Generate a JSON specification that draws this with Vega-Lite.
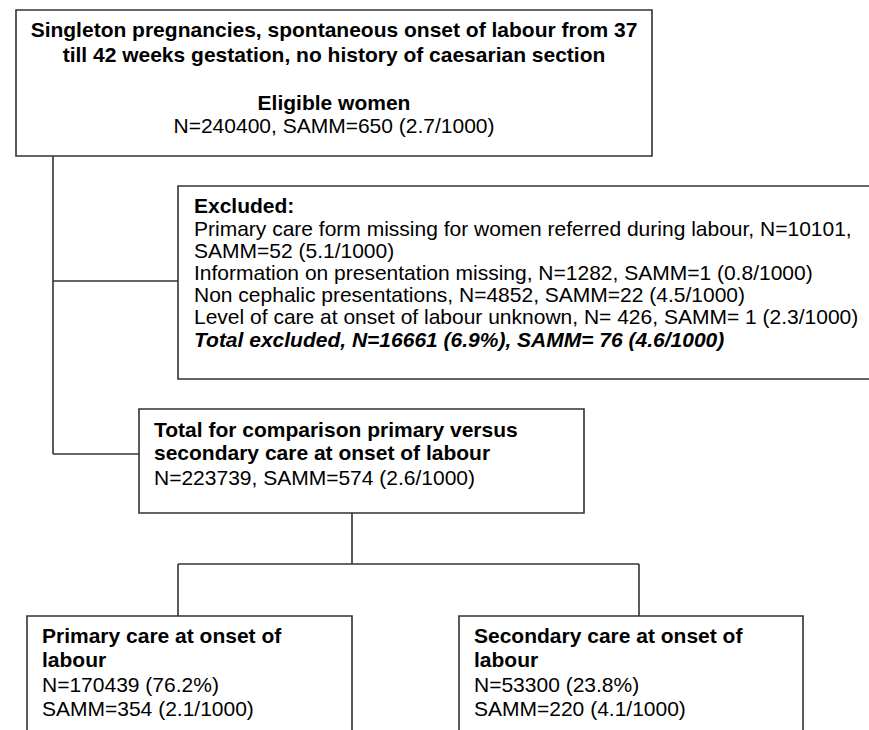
{
  "$schema": "https://vega.github.io/schema/vega-lite/v6.json",
  "width": 869,
  "height": 730,
  "padding": 0,
  "autosize": "none",
  "background": "white",
  "config": {"view": {"stroke": null}, "text": {"font": "Liberation Sans", "fontSize": 21, "color": "#000000", "baseline": "alphabetic"}},
  "datasets": {
    "boxes": [
      {"box": "eligible", "x": 16, "x2": 652, "y": 10, "y2": 156},
      {"box": "excluded", "x": 178, "x2": 880, "y": 186, "y2": 379},
      {"box": "comparison", "x": 139, "x2": 584, "y": 409, "y2": 513},
      {"box": "primary", "x": 27, "x2": 352, "y": 616, "y2": 745},
      {"box": "secondary", "x": 459, "x2": 803, "y": 616, "y2": 745}
    ],
    "connectors": [
      {"x": 53, "x2": 53, "y": 156, "y2": 454},
      {"x": 53, "x2": 178, "y": 281, "y2": 281},
      {"x": 53, "x2": 139, "y": 454, "y2": 454},
      {"x": 352, "x2": 352, "y": 513, "y2": 564},
      {"x": 178, "x2": 639, "y": 564, "y2": 564},
      {"x": 178, "x2": 178, "y": 564, "y2": 616},
      {"x": 639, "x2": 639, "y": 564, "y2": 616}
    ],
    "labels": [
      {"role": "centerBold", "x": 334, "y": 37, "text": "Singleton pregnancies, spontaneous onset of labour from 37"},
      {"role": "centerBold", "x": 334, "y": 62, "text": "till 42 weeks gestation, no history of caesarian section"},
      {"role": "centerBold", "x": 334, "y": 110, "text": "Eligible women"},
      {"role": "centerNormal", "x": 334, "y": 133, "text": "N=240400, SAMM=650 (2.7/1000)"},
      {"role": "leftBold", "x": 194, "y": 213, "text": "Excluded:"},
      {"role": "leftNormal", "x": 194, "y": 236, "text": "Primary care form missing for women referred during labour, N=10101,"},
      {"role": "leftNormal", "x": 194, "y": 258, "text": "SAMM=52 (5.1/1000)"},
      {"role": "leftNormal", "x": 194, "y": 280, "text": "Information on presentation missing, N=1282, SAMM=1 (0.8/1000)"},
      {"role": "leftNormal", "x": 194, "y": 302, "text": "Non cephalic presentations, N=4852, SAMM=22 (4.5/1000)"},
      {"role": "leftNormal", "x": 194, "y": 324, "text": "Level of care at onset of labour unknown, N= 426, SAMM= 1 (2.3/1000)"},
      {"role": "leftBoldItalic", "x": 194, "y": 347, "text": "Total excluded, N=16661 (6.9%), SAMM= 76 (4.6/1000)"},
      {"role": "leftBold", "x": 154, "y": 437, "text": "Total for comparison primary versus"},
      {"role": "leftBold", "x": 154, "y": 460, "text": "secondary care at onset of labour"},
      {"role": "leftNormal", "x": 154, "y": 485, "text": "N=223739, SAMM=574 (2.6/1000)"},
      {"role": "leftBold", "x": 42, "y": 643, "text": "Primary care at onset of"},
      {"role": "leftBold", "x": 42, "y": 667, "text": "labour"},
      {"role": "leftNormal", "x": 42, "y": 692, "text": "N=170439 (76.2%)"},
      {"role": "leftNormal", "x": 42, "y": 716, "text": "SAMM=354 (2.1/1000)"},
      {"role": "leftBold", "x": 474, "y": 643, "text": "Secondary care at onset of"},
      {"role": "leftBold", "x": 474, "y": 667, "text": "labour"},
      {"role": "leftNormal", "x": 474, "y": 692, "text": "N=53300 (23.8%)"},
      {"role": "leftNormal", "x": 474, "y": 716, "text": "SAMM=220 (4.1/1000)"}
    ]
  },
  "layer": [
    {
      "data": {"name": "boxes"},
      "mark": {"type": "rect", "fill": "white", "stroke": "#333333", "strokeWidth": 1.6, "clip": true},
      "encoding": {
        "x": {"field": "x", "type": "quantitative", "scale": {"domain": [0, 869], "nice": false, "zero": false}, "axis": null},
        "x2": {"field": "x2"},
        "y": {"field": "y", "type": "quantitative", "scale": {"domain": [0, 730], "nice": false, "zero": false, "reverse": true}, "axis": null},
        "y2": {"field": "y2"}
      }
    },
    {
      "data": {"name": "connectors"},
      "mark": {"type": "rule", "stroke": "#333333", "strokeWidth": 1.6},
      "encoding": {
        "x": {"field": "x", "type": "quantitative"},
        "x2": {"field": "x2"},
        "y": {"field": "y", "type": "quantitative"},
        "y2": {"field": "y2"}
      }
    },
    {
      "data": {"name": "labels"},
      "transform": [{"filter": "datum.role === 'centerBold'"}],
      "mark": {"type": "text", "align": "center", "fontWeight": "bold"},
      "encoding": {"x": {"field": "x", "type": "quantitative"}, "y": {"field": "y", "type": "quantitative"}, "text": {"field": "text"}}
    },
    {
      "data": {"name": "labels"},
      "transform": [{"filter": "datum.role === 'centerNormal'"}],
      "mark": {"type": "text", "align": "center"},
      "encoding": {"x": {"field": "x", "type": "quantitative"}, "y": {"field": "y", "type": "quantitative"}, "text": {"field": "text"}}
    },
    {
      "data": {"name": "labels"},
      "transform": [{"filter": "datum.role === 'leftBold'"}],
      "mark": {"type": "text", "align": "left", "fontWeight": "bold"},
      "encoding": {"x": {"field": "x", "type": "quantitative"}, "y": {"field": "y", "type": "quantitative"}, "text": {"field": "text"}}
    },
    {
      "data": {"name": "labels"},
      "transform": [{"filter": "datum.role === 'leftNormal'"}],
      "mark": {"type": "text", "align": "left"},
      "encoding": {"x": {"field": "x", "type": "quantitative"}, "y": {"field": "y", "type": "quantitative"}, "text": {"field": "text"}}
    },
    {
      "data": {"name": "labels"},
      "transform": [{"filter": "datum.role === 'leftBoldItalic'"}],
      "mark": {"type": "text", "align": "left", "fontWeight": "bold", "fontStyle": "italic"},
      "encoding": {"x": {"field": "x", "type": "quantitative"}, "y": {"field": "y", "type": "quantitative"}, "text": {"field": "text"}}
    }
  ]
}
